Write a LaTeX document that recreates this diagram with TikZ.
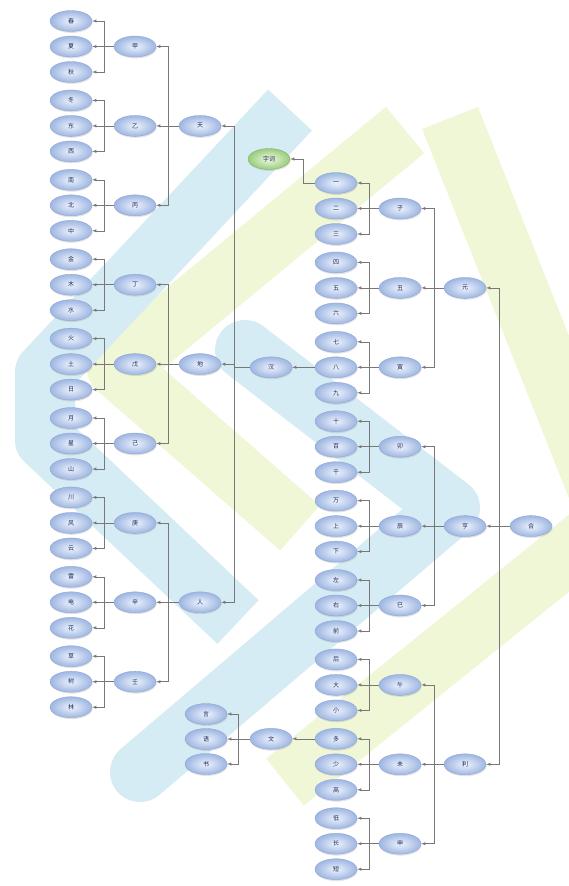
\documentclass[tikz,border=0pt]{standalone}
\usepackage{fontspec}
\newfontfamily\cjk{Noto Sans CJK SC}
\usepackage{tikz}
\usetikzlibrary{shapes.geometric}
\usetikzlibrary{shadows}

\definecolor{bandblue}{RGB}{214,236,244}
\definecolor{bandgreen}{RGB}{239,247,214}
\definecolor{bubin}{RGB}{236,242,252}
\definecolor{bubout}{RGB}{158,182,226}
\definecolor{bubedge}{RGB}{140,162,208}
\definecolor{greenin}{RGB}{240,249,228}
\definecolor{greenout}{RGB}{152,204,122}
\definecolor{greenedge}{RGB}{122,178,100}
\definecolor{inktext}{RGB}{26,40,90}
\definecolor{wire}{RGB}{120,120,120}

\tikzset{
  bub/.style={ellipse, minimum width=42pt, minimum height=21pt, inner sep=0pt,
    draw=bubedge, line width=0.3pt, inner color=bubin, outer color=bubout,
    drop shadow={opacity=0.22, shadow xshift=0.6pt, shadow yshift=-1.4pt},
    text=inktext, font=\cjk\fontsize{6}{6}\selectfont},
  greenbub/.style={bub, draw=greenedge, inner color=greenin, outer color=greenout},
  link/.style={draw=wire, line width=0.5pt, -latex},
  band/.style={line width=60pt, line join=round},
}

\begin{document}
\begin{tikzpicture}[x=1pt,y=-1pt]
\fill[white] (0,0) rectangle (568,886);
\useasboundingbox (0,0) rectangle (568,886);

% watermark
\draw[band, draw=bandgreen] (405,130) -- (117,368) -- (300,528);
\draw[band, draw=bandgreen] (450,118) -- (610,520) -- (285,782);
\draw[band, draw=bandblue] (290,110) -- (45,372) -- (45,440) -- (238,622);
\draw[band, draw=bandblue, line cap=round] (245,350) -- (450,508) -- (140,772);

% left tree
\node[bub] (a1) at (71,21) {春};
\node[bub] (a2) at (71,46.5) {夏};
\node[bub] (a3) at (71,72) {秋};

\node[bub] (a4) at (71,100.4) {冬};
\node[bub] (a5) at (71,125.9) {东};
\node[bub] (a6) at (71,151.4) {西};

\node[bub] (a7) at (71,179.8) {南};
\node[bub] (a8) at (71,205.3) {北};
\node[bub] (a9) at (71,230.8) {中};

\node[bub] (a10) at (71,259.2) {金};
\node[bub] (a11) at (71,284.7) {木};
\node[bub] (a12) at (71,310.2) {水};

\node[bub] (a13) at (71,338.6) {火};
\node[bub] (a14) at (71,364.1) {土};
\node[bub] (a15) at (71,389.6) {日};

\node[bub] (a16) at (71,418) {月};
\node[bub] (a17) at (71,443.5) {星};
\node[bub] (a18) at (71,469) {山};

\node[bub] (a19) at (71,497.4) {川};
\node[bub] (a20) at (71,522.9) {风};
\node[bub] (a21) at (71,548.4) {云};

\node[bub] (a22) at (71,576.8) {雷};
\node[bub] (a23) at (71,602.3) {电};
\node[bub] (a24) at (71,627.8) {花};

\node[bub] (a25) at (71,656.2) {草};
\node[bub] (a26) at (71,681.7) {树};
\node[bub] (a27) at (71,707.2) {林};

\node[bub] (b1) at (135,46.5) {甲};
\node[bub] (b2) at (135,125.9) {乙};
\node[bub] (b3) at (135,205.3) {丙};
\node[bub] (b4) at (135,284.7) {丁};
\node[bub] (b5) at (135,364.1) {戊};
\node[bub] (b6) at (135,443.5) {己};
\node[bub] (b7) at (135,522.9) {庚};
\node[bub] (b8) at (135,602.3) {辛};
\node[bub] (b9) at (135,681.7) {壬};

\node[bub] (c1) at (200,125.9) {天};
\node[bub] (c2) at (200,364.1) {地};
\node[bub] (c3) at (200,602.3) {人};

\node[bub] (lroot) at (271,367.3) {汉};

% right tree
\node[greenbub] (top) at (269,159) {字词};

\node[bub] (e1) at (336,183) {一};
\node[bub] (e2) at (336,208.5) {二};
\node[bub] (e3) at (336,234) {三};

\node[bub] (e4) at (336,262.4) {四};
\node[bub] (e5) at (336,287.9) {五};
\node[bub] (e6) at (336,313.4) {六};

\node[bub] (e7) at (336,341.8) {七};
\node[bub] (e8) at (336,367.3) {八};
\node[bub] (e9) at (336,392.8) {九};

\node[bub] (e10) at (336,421.2) {十};
\node[bub] (e11) at (336,446.7) {百};
\node[bub] (e12) at (336,472.2) {千};

\node[bub] (e13) at (336,500.6) {万};
\node[bub] (e14) at (336,526.1) {上};
\node[bub] (e15) at (336,551.6) {下};

\node[bub] (e16) at (336,580) {左};
\node[bub] (e17) at (336,605.5) {右};
\node[bub] (e18) at (336,631) {前};

\node[bub] (e19) at (336,659.4) {后};
\node[bub] (e20) at (336,684.9) {大};
\node[bub] (e21) at (336,710.4) {小};

\node[bub] (e22) at (336,738.8) {多};
\node[bub] (e23) at (336,764.3) {少};
\node[bub] (e24) at (336,789.8) {高};

\node[bub] (e25) at (336,818.2) {低};
\node[bub] (e26) at (336,843.7) {长};
\node[bub] (e27) at (336,869.2) {短};

\node[bub] (d1) at (400,208.5) {子};
\node[bub] (d2) at (400,287.9) {丑};
\node[bub] (d3) at (400,367.3) {寅};
\node[bub] (d4) at (400,446.7) {卯};
\node[bub] (d5) at (400,526.1) {辰};
\node[bub] (d6) at (400,605.5) {巳};
\node[bub] (d7) at (400,684.9) {午};
\node[bub] (d8) at (400,764.3) {未};
\node[bub] (d9) at (400,843.7) {申};

\node[bub] (f1) at (465,287.9) {元};
\node[bub] (f2) at (465,526.1) {亨};
\node[bub] (f3) at (465,764.3) {利};

\node[bub] (root) at (531,526.1) {合};

\node[bub] (m) at (271,738.8) {文};
\node[bub] (m1) at (206,714) {言};
\node[bub] (m2) at (206,739) {语};
\node[bub] (m3) at (206,764) {书};

% left links
\draw[link] (b1.west) -- ++(-10,0) |- (a1.east);
\draw[link] (b1.west) -- ++(-10,0) |- (a2.east);
\draw[link] (b1.west) -- ++(-10,0) |- (a3.east);
\draw[link] (b2.west) -- ++(-10,0) |- (a4.east);
\draw[link] (b2.west) -- ++(-10,0) |- (a5.east);
\draw[link] (b2.west) -- ++(-10,0) |- (a6.east);
\draw[link] (b3.west) -- ++(-10,0) |- (a7.east);
\draw[link] (b3.west) -- ++(-10,0) |- (a8.east);
\draw[link] (b3.west) -- ++(-10,0) |- (a9.east);
\draw[link] (b4.west) -- ++(-10,0) |- (a10.east);
\draw[link] (b4.west) -- ++(-10,0) |- (a11.east);
\draw[link] (b4.west) -- ++(-10,0) |- (a12.east);
\draw[link] (b5.west) -- ++(-10,0) |- (a13.east);
\draw[link] (b5.west) -- ++(-10,0) |- (a14.east);
\draw[link] (b5.west) -- ++(-10,0) |- (a15.east);
\draw[link] (b6.west) -- ++(-10,0) |- (a16.east);
\draw[link] (b6.west) -- ++(-10,0) |- (a17.east);
\draw[link] (b6.west) -- ++(-10,0) |- (a18.east);
\draw[link] (b7.west) -- ++(-10,0) |- (a19.east);
\draw[link] (b7.west) -- ++(-10,0) |- (a20.east);
\draw[link] (b7.west) -- ++(-10,0) |- (a21.east);
\draw[link] (b8.west) -- ++(-10,0) |- (a22.east);
\draw[link] (b8.west) -- ++(-10,0) |- (a23.east);
\draw[link] (b8.west) -- ++(-10,0) |- (a24.east);
\draw[link] (b9.west) -- ++(-10,0) |- (a25.east);
\draw[link] (b9.west) -- ++(-10,0) |- (a26.east);
\draw[link] (b9.west) -- ++(-10,0) |- (a27.east);

\draw[link] (c1.west) -- ++(-11,0) |- (b1.east);
\draw[link] (c1.west) -- ++(-11,0) |- (b2.east);
\draw[link] (c1.west) -- ++(-11,0) |- (b3.east);
\draw[link] (c2.west) -- ++(-11,0) |- (b4.east);
\draw[link] (c2.west) -- ++(-11,0) |- (b5.east);
\draw[link] (c2.west) -- ++(-11,0) |- (b6.east);
\draw[link] (c3.west) -- ++(-11,0) |- (b7.east);
\draw[link] (c3.west) -- ++(-11,0) |- (b8.east);
\draw[link] (c3.west) -- ++(-11,0) |- (b9.east);

\draw[link] (lroot.west) -- ++(-16,0) |- (c1.east);
\draw[link] (lroot.west) -- ++(-16,0) |- (c2.east);
\draw[link] (lroot.west) -- ++(-16,0) |- (c3.east);

% right links
\draw[link] (d1.west) -- ++(-10,0) |- (e1.east);
\draw[link] (d1.west) -- ++(-10,0) |- (e2.east);
\draw[link] (d1.west) -- ++(-10,0) |- (e3.east);
\draw[link] (d2.west) -- ++(-10,0) |- (e4.east);
\draw[link] (d2.west) -- ++(-10,0) |- (e5.east);
\draw[link] (d2.west) -- ++(-10,0) |- (e6.east);
\draw[link] (d3.west) -- ++(-10,0) |- (e7.east);
\draw[link] (d3.west) -- ++(-10,0) |- (e8.east);
\draw[link] (d3.west) -- ++(-10,0) |- (e9.east);
\draw[link] (d4.west) -- ++(-10,0) |- (e10.east);
\draw[link] (d4.west) -- ++(-10,0) |- (e11.east);
\draw[link] (d4.west) -- ++(-10,0) |- (e12.east);
\draw[link] (d5.west) -- ++(-10,0) |- (e13.east);
\draw[link] (d5.west) -- ++(-10,0) |- (e14.east);
\draw[link] (d5.west) -- ++(-10,0) |- (e15.east);
\draw[link] (d6.west) -- ++(-10,0) |- (e16.east);
\draw[link] (d6.west) -- ++(-10,0) |- (e17.east);
\draw[link] (d6.west) -- ++(-10,0) |- (e18.east);
\draw[link] (d7.west) -- ++(-10,0) |- (e19.east);
\draw[link] (d7.west) -- ++(-10,0) |- (e20.east);
\draw[link] (d7.west) -- ++(-10,0) |- (e21.east);
\draw[link] (d8.west) -- ++(-10,0) |- (e22.east);
\draw[link] (d8.west) -- ++(-10,0) |- (e23.east);
\draw[link] (d8.west) -- ++(-10,0) |- (e24.east);
\draw[link] (d9.west) -- ++(-10,0) |- (e25.east);
\draw[link] (d9.west) -- ++(-10,0) |- (e26.east);
\draw[link] (d9.west) -- ++(-10,0) |- (e27.east);

\draw[link] (f1.west) -- ++(-10,0) |- (d1.east);
\draw[link] (f1.west) -- ++(-10,0) |- (d2.east);
\draw[link] (f1.west) -- ++(-10,0) |- (d3.east);
\draw[link] (f2.west) -- ++(-10,0) |- (d4.east);
\draw[link] (f2.west) -- ++(-10,0) |- (d5.east);
\draw[link] (f2.west) -- ++(-10,0) |- (d6.east);
\draw[link] (f3.west) -- ++(-10,0) |- (d7.east);
\draw[link] (f3.west) -- ++(-10,0) |- (d8.east);
\draw[link] (f3.west) -- ++(-10,0) |- (d9.east);

\draw[link] (root.west) -- ++(-11,0) |- (f1.east);
\draw[link] (root.west) -- ++(-11,0) |- (f2.east);
\draw[link] (root.west) -- ++(-11,0) |- (f3.east);

% side branches
\draw[link] (e1.west) -- ++(-12,0) |- (top.east);
\draw[link] (e8.west) -- (lroot.east);
\draw[link] (e22.west) -- (m.east);
\draw[link] (m.west) -- ++(-12,0) |- (m1.east);
\draw[link] (m.west) -- ++(-12,0) |- (m2.east);
\draw[link] (m.west) -- ++(-12,0) |- (m3.east);

\end{tikzpicture}
\end{document}
